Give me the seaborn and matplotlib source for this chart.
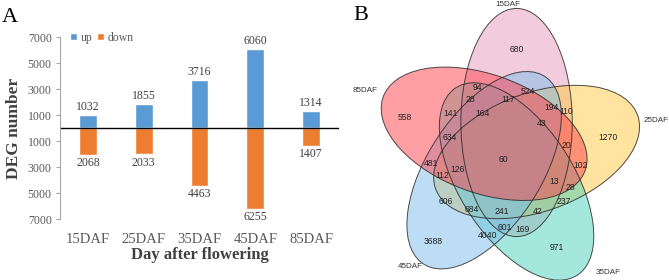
import numpy as np
import pandas as pd
import seaborn as sns
import matplotlib.pyplot as plt
from matplotlib.patches import Ellipse
from matplotlib.transforms import Affine2D

#-----------------------------------------------------------------------------------------------------------------------
"""Data"""
# Panel A: DEG counts per stage
days = ['15DAF', '25DAF', '35DAF', '45DAF', '85DAF']
up = [1032, 1855, 3716, 6060, 1314]
down = [2068, 2033, 4463, 6255, 1407]
yticks = [-7000, -5000, -3000, -1000, 1000, 3000, 5000, 7000]

# Panel B: five-set Venn
set_names = ['15DAF', '25DAF', '35DAF', '45DAF', '85DAF']
region_counts = [680, 94, 524, 28, 117, 194, 110, 141, 164, 558, 43, 1270, 634, 20, 60,
                 481, 126, 102, 112, 13, 28, 606, 237, 684, 241, 42, 601, 169, 4040, 3688, 971]

#-----------------------------------------------------------------------------------------------------------------------
"""Layout / style"""
BLUE = '#5B9BD5'
ORANGE = '#ED7D31'
GREY = '#595959'
DARK = '#404040'
venn_colors = ['#E79BBB', '#FFC941', '#4BD1BD', '#7DBDEB', '#FF414B']

# label positions in image pixels
region_xy = [(517, 50), (477, 88), (528, 91), (470, 99), (508, 100), (552, 107), (566, 112),
             (451, 114), (483, 114), (405, 118), (542, 123), (608, 137), (450, 138), (566, 145),
             (503, 159), (431, 164), (458, 169), (581, 165), (442, 176), (554, 182), (570, 187),
             (446, 201), (564, 202), (472, 210), (502, 212), (538, 211), (505, 227), (523, 229),
             (488, 235), (433, 242), (557, 247)]
set_xy = [(508, 4), (656, 120), (608, 273), (410, 267), (365, 90)]

sns.set_style('white')
plt.rcParams['font.family'] = ['Liberation Serif', 'DejaVu Serif']

fig = plt.figure(figsize=(6.69, 2.8), dpi=100)

#-----------------------------------------------------------------------------------------------------------------------
"""Panel A"""
ax = fig.add_axes([60 / 669, 1 - 219 / 280, 279 / 669, 182 / 280])

df = pd.DataFrame({'day': days * 2,
                   'value': up + [-d for d in down],
                   'type': ['up'] * len(days) + ['down'] * len(days)})
sns.barplot(data=df, x='day', y='value', hue='type', dodge=False, width=0.32,
            palette={'up': BLUE, 'down': ORANGE}, saturation=1, errorbar=None, ax=ax)

ax.bar_label(ax.containers[0], labels=[str(v) for v in up], padding=1.5, fontsize=8.5, color=DARK)
ax.bar_label(ax.containers[1], labels=[str(v) for v in down], padding=1.5, fontsize=8.5, color=DARK)

ax.axhline(0, color='black', lw=1)
ax.set_ylim(-7000, 7000)
ax.set_xlim(-0.5, 4.5)
ax.set_yticks(yticks)
ax.set_yticklabels([str(abs(t)) for t in yticks])

ax.tick_params(axis='y', direction='out', length=3, width=0.8, color='#A6A6A6',
               labelsize=8.5, labelcolor=GREY, pad=3, left=True)
ax.tick_params(axis='x', length=0, labelsize=10.5, labelcolor=GREY, pad=10)

for s in ['top', 'right', 'bottom']:
    ax.spines[s].set_visible(False)
ax.spines['left'].set_color('#A6A6A6')
ax.spines['left'].set_linewidth(0.8)

ax.set_xlabel('Day after flowering', fontsize=12, fontweight='bold', color=DARK, labelpad=1)
ax.set_ylabel('DEG number', fontsize=12.5, fontweight='bold', color=DARK, labelpad=4)

ax.legend(loc='upper left', bbox_to_anchor=(0.035, 1.03), ncol=2, frameon=False, fontsize=8.5,
          handlelength=0.6, handleheight=0.6, handletextpad=0.3, columnspacing=0.4,
          borderpad=0, borderaxespad=0, labelcolor=GREY)

#-----------------------------------------------------------------------------------------------------------------------
"""Panel B"""
axb = fig.add_axes([0, 0, 1, 1])
axb.set_xlim(0, 669)
axb.set_ylim(280, 0)
axb.axis('off')

unit = Affine2D().scale(232, -248).translate(507.6, 152) + axb.transData

for k, col in enumerate(venn_colors):
    phi = 90 - 72 * k
    ang = np.radians(phi - 18)
    centre = (0.125 * np.cos(ang), 0.125 * np.sin(ang))
    axb.add_patch(Ellipse(centre, 0.92, 0.48, angle=phi, transform=unit,
                          facecolor=col, edgecolor='none', alpha=0.5))
for k in range(5):
    phi = 90 - 72 * k
    ang = np.radians(phi - 18)
    centre = (0.125 * np.cos(ang), 0.125 * np.sin(ang))
    axb.add_patch(Ellipse(centre, 0.92, 0.48, angle=phi, transform=unit,
                          facecolor='none', edgecolor='#2b2b2b', lw=0.7, alpha=0.85))

for n, (x, y) in zip(region_counts, region_xy):
    axb.text(x, y, str(n), ha='center', va='center', fontsize=6.2,
             family=['Liberation Sans', 'DejaVu Sans'], color='#222222')
for name, (x, y) in zip(set_names, set_xy):
    axb.text(x, y, name, ha='center', va='center', fontsize=5.8,
             family=['Liberation Sans', 'DejaVu Sans'], color='#333333')

# Panel letters
axb.text(10, 17, 'A', ha='center', va='center', fontsize=16, color='black')
axb.text(361, 15, 'B', ha='center', va='center', fontsize=16, color='black')

fig.savefig('out.png', dpi=100)
